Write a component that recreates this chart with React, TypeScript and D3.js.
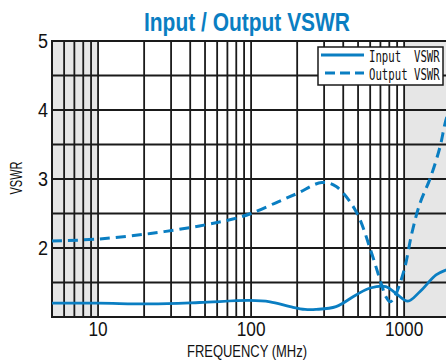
import React from "react";
import * as d3 from "d3";

const W = 446;
const H = 363;

const xTicks = [10, 100, 1000];
const xTickLabels = ["10", "100", "1000"];
const yTicks = [2, 3, 4, 5];
const yTickLabels = ["2", "3", "4", "5"];
const yGrid = [1.5, 2, 2.5, 3, 3.5, 4, 4.5];
const xGrid = [6, 7, 8, 9, 10, 20, 30, 40, 50, 60, 70, 80, 90, 100, 200, 300, 400, 500, 600, 700, 800, 900, 1000];
const shadedRanges = [[5, 10], [1000, 2000]];

const freqIn = [5, 10, 22, 46, 98, 133, 180, 225, 266, 359, 485, 600, 760, 885, 1057, 1271, 1617, 1879, 2000];
const vswrIn = [1.2, 1.2, 1.19, 1.21, 1.24, 1.22, 1.15, 1.11, 1.11, 1.15, 1.32, 1.42, 1.44, 1.34, 1.23, 1.37, 1.61, 1.68, 1.7];

const freqOut = [5, 10, 22, 46, 76, 100, 150, 200, 290, 360, 485, 608, 707, 762, 810, 860, 1000, 1122, 1270, 1480, 1718, 1853, 2000];
const vswrOut = [2.1, 2.13, 2.21, 2.32, 2.42, 2.5, 2.67, 2.79, 2.95, 2.89, 2.53, 1.95, 1.49, 1.29, 1.22, 1.28, 1.68, 2.21, 2.65, 3.01, 3.47, 3.81, 4.05];

const seriesNames = ["Input  VSWR", "Output VSWR"];
const title = "Input / Output VSWR";
const xTitle = "FREQUENCY (MHz)";
const yTitle = "VSWR";

const BLUE = "#0a7ec2";
const GRID = "#1a1a1a";

export default function App() {
  const left = 52, right = 450.2, top = 41, bottom = 317;
  const x = d3.scaleLog().domain([5, 2000]).range([left, right]);
  const y = d3.scaleLinear().domain([1, 5]).range([bottom, top]);

  const line = d3
    .line<[number, number]>()
    .x((d) => x(d[0]))
    .y((d) => y(d[1]))
    .curve(d3.curveCatmullRom.alpha(0.5));

  const inPath = line(freqIn.map((f, i) => [f, vswrIn[i]]) as [number, number][]) || "";
  const outPath = line(freqOut.map((f, i) => [f, vswrOut[i]]) as [number, number][]) || "";

  const narrow = "'Liberation Sans Narrow', 'Liberation Sans', Arial, sans-serif";
  const mono = "'DejaVu Sans Mono', 'Liberation Mono', monospace";

  return (
    <svg
      width={W}
      height={H}
      style={{ position: "absolute", left: 0, top: 0, background: "#fff" }}
    >
      <defs>
        <clipPath id="plot">
          <rect x={left} y={top} width={right - left} height={bottom - top} />
        </clipPath>
      </defs>
      <text
        x={144}
        y={31}
        fontFamily={narrow}
        fontWeight="bold"
        fontSize={26}
        fill={BLUE}
        textLength={206}
        lengthAdjust="spacingAndGlyphs"
      >
        {title}
      </text>

      {shadedRanges.map((r, i) => (
        <rect
          key={i}
          x={x(r[0])}
          y={top}
          width={x(r[1]) - x(r[0])}
          height={bottom - top}
          fill="#e6e6e6"
        />
      ))}

      {yGrid.map((v) => (
        <line key={"h" + v} x1={left} x2={right} y1={y(v)} y2={y(v)} stroke={GRID} strokeWidth={1.8} />
      ))}
      {xGrid.map((f) => (
        <line key={"v" + f} x1={x(f)} x2={x(f)} y1={top} y2={bottom} stroke={GRID} strokeWidth={1.8} />
      ))}
      <rect x={left} y={top} width={right - left} height={bottom - top} fill="none" stroke={GRID} strokeWidth={2} />

      <g clipPath="url(#plot)">
        <path d={inPath} fill="none" stroke={BLUE} strokeWidth={2.8} />
        <path d={outPath} fill="none" stroke={BLUE} strokeWidth={3} strokeDasharray="10 6" />
      </g>

      {/* legend */}
      <rect x={318} y={47} width={125} height={38} fill="#fff" stroke={GRID} strokeWidth={1.5} />
      <line x1={321} x2={364} y1={55} y2={55} stroke={BLUE} strokeWidth={2.8} />
      <line x1={325} x2={364} y1={73} y2={73} stroke={BLUE} strokeWidth={3} strokeDasharray="10 5" />
      {seriesNames.map((s, i) => (
        <text
          key={s}
          transform={`translate(369,${62 + i * 17.5}) scale(0.69,1)`}
          fontFamily={mono}
          fontSize={15.5}
          fill="#111"
          style={{ whiteSpace: "pre" }}
        >
          {s}
        </text>
      ))}

      {xTicks.map((t, i) => (
        <text
          key={"xt" + t}
          x={x(t)}
          y={336}
          textAnchor="middle"
          fontFamily={narrow}
          fontSize={19.5}
          fill="#111"
          textLength={xTickLabels[i].length * 9.6}
          lengthAdjust="spacingAndGlyphs"
        >
          {xTickLabels[i]}
        </text>
      ))}
      {yTicks.map((t, i) => (
        <text
          key={"yt" + t}
          x={48}
          y={y(t) + 7}
          textAnchor="end"
          fontFamily={narrow}
          fontSize={20}
          fill="#111"
          textLength={10}
          lengthAdjust="spacingAndGlyphs"
        >
          {yTickLabels[i]}
        </text>
      ))}
      <text
        x={187}
        y={357}
        fontFamily={narrow}
        fontSize={16.5}
        fill="#111"
        textLength={120}
        lengthAdjust="spacingAndGlyphs"
      >
        {xTitle}
      </text>
      <text
        transform="translate(22,178) rotate(-90)"
        textAnchor="middle"
        fontFamily={narrow}
        fontSize={16}
        fill="#111"
        textLength={33}
        lengthAdjust="spacingAndGlyphs"
      >
        {yTitle}
      </text>
    </svg>
  );
}
